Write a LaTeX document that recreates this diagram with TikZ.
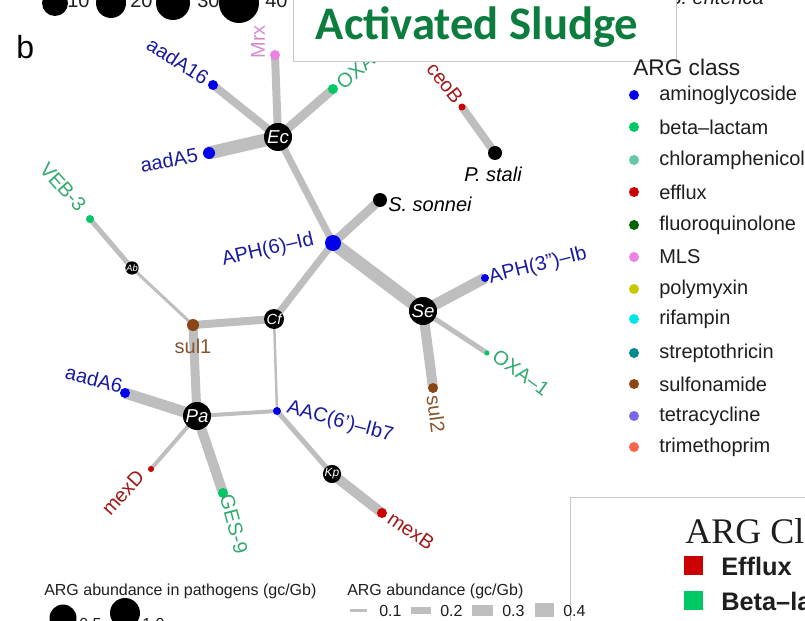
\documentclass[tikz,border=0pt]{standalone}
\usepackage{fontspec}
\setmainfont{Liberation Sans}
\newfontfamily\titlefont{Carlito}
\newfontfamily\serfont{Liberation Serif}
\usetikzlibrary{backgrounds}
\definecolor{cblue}{RGB}{0,0,235}
\definecolor{cbeta}{RGB}{0,200,100}
\definecolor{cchlor}{RGB}{100,200,170}
\definecolor{ceff}{RGB}{205,0,0}
\definecolor{cfluo}{RGB}{0,100,0}
\definecolor{cmls}{RGB}{235,130,230}
\definecolor{cpoly}{RGB}{200,200,0}
\definecolor{crif}{RGB}{0,230,235}
\definecolor{cstrep}{RGB}{0,139,139}
\definecolor{csulf}{RGB}{139,69,19}
\definecolor{ctet}{RGB}{125,100,235}
\definecolor{ctri}{RGB}{250,100,75}
\definecolor{lblue}{RGB}{25,25,160}
\definecolor{lgreen}{RGB}{50,170,110}
\definecolor{lred}{RGB}{160,25,25}
\definecolor{lbrown}{RGB}{135,85,45}
\definecolor{lpink}{RGB}{210,140,205}
\definecolor{egray}{RGB}{190,190,190}
\definecolor{titlegreen}{RGB}{12,125,62}
\definecolor{boxgray}{RGB}{200,200,200}
\definecolor{txt}{RGB}{30,30,30}
\tikzset{
  dot/.style={circle,inner sep=0pt,minimum size=#1*0.75pt},
  host/.style={circle,fill=black,inner sep=0pt,minimum size=#1*0.75pt,text=white},
  edge/.style={draw=egray,line width=#1*0.75pt},
  lab/.style={inner sep=0pt,font=\fontsize{15}{15}\selectfont},
  leg/.style={inner sep=0pt,anchor=west,text=txt,font=\fontsize{15}{15}\selectfont},
  small/.style={inner sep=0pt,text=txt,font=\fontsize{12}{12}\selectfont},
}
\begin{document}
\begin{tikzpicture}[x=0.75pt,y=-0.75pt]
\useasboundingbox (0,0) rectangle (805,620);
\clip (0,0) rectangle (805,620);
% top-left size legend (cut)
\node[dot=26,fill=black] (s10) at (55,3) {};
\node[dot=30,fill=black] (s20) at (111,3) {};
\node[dot=34,fill=black] (s30) at (173,3) {};
\node[dot=40,fill=black] (s40) at (239,3) {};
\node[small,font=\fontsize{15}{15}\selectfont,anchor=base west] (t10) at (67,8) {10};
\node[small,font=\fontsize{15}{15}\selectfont,anchor=base west] (t20) at (130,8) {20};
\node[small,font=\fontsize{15}{15}\selectfont,anchor=base west] (t30) at (197,8) {30};
\node[small,font=\fontsize{15}{15}\selectfont,anchor=base west] (t40) at (265,8) {40};
\node[small,font=\fontsize{15}{15}\itshape,anchor=base west] (sent) at (668,5) {S. enterica};
\node[inner sep=0pt,anchor=base west,font=\fontsize{24}{24}\selectfont] (b) at (16,59) {b};

% network nodes
\node[host=28,font=\fontsize{14}{14}\itshape] (Ec) at (278,137) {Ec};
\node[dot=10,fill=cmls] (Mrx) at (275,55) {};
\node[dot=10,fill=cblue] (aadA16) at (213,85) {};
\node[dot=10,fill=cbeta] (OXA) at (333,89) {};
\node[dot=12,fill=cblue] (aadA5) at (209,153) {};
\node[dot=16,fill=cblue] (APH6) at (333,243) {};
\node[host=14] (Sson) at (380,200) {};
\node[dot=7,fill=ceff] (ceoB) at (462,107) {};
\node[host=14] (Pstali) at (495,153) {};
\node[dot=8,fill=cbeta] (VEB) at (90,219) {};
\node[host=12,font=\fontsize{7}{7}\itshape] (Ab) at (132,268) {Ab};
\node[dot=12,fill=csulf] (sul1) at (193,325) {};
\node[host=20,font=\fontsize{11}{11}\itshape] (Cf) at (274,319) {Cf};
\node[host=28,font=\fontsize{14}{14}\itshape] (Pa) at (197,416) {Pa};
\node[dot=8,fill=cblue] (AAC) at (277,411) {};
\node[dot=10,fill=cblue] (aadA6) at (125,393) {};
\node[dot=6,fill=ceff] (mexD) at (151,469) {};
\node[dot=10,fill=cbeta] (GES) at (223,493) {};
\node[host=18,font=\fontsize{9}{9}\itshape] (Kp) at (332,474) {Kp};
\node[dot=10,fill=ceff] (mexB) at (382,513) {};
\node[host=28,font=\fontsize{14}{14}\itshape] (Se) at (423,311) {Se};
\node[dot=8,fill=cblue] (APH3) at (485,278) {};
\node[dot=5,fill=cbeta] (OXA1) at (487,353) {};
\node[dot=10,fill=csulf] (sul2) at (433,388) {};

\begin{scope}[on background layer]
\draw[edge=8] (Ec.center) -- (Mrx.center);
\draw[edge=8] (Ec.center) -- (aadA16.center);
\draw[edge=9] (Ec.center) -- (OXA.center);
\draw[edge=13] (Ec.center) -- (aadA5.center);
\draw[edge=7] (Ec.center) -- (APH6.center);
\draw[edge=9] (APH6.center) -- (Sson.center);
\draw[edge=13] (APH6.center) -- (Se.center);
\draw[edge=7] (APH6.center) -- (Cf.center);
\draw[edge=8] (ceoB.center) -- (Pstali.center);
\draw[edge=5] (VEB.center) -- (Ab.center);
\draw[edge=3] (Ab.center) -- (sul1.center);
\draw[edge=8] (sul1.center) -- (Cf.center);
\draw[edge=9] (sul1.center) -- (Pa.center);
\draw[edge=2.5] (Cf.center) -- (AAC.center);
\draw[edge=4] (Pa.center) -- (AAC.center);
\draw[edge=11] (Pa.center) -- (aadA6.center);
\draw[edge=4] (Pa.center) -- (mexD.center);
\draw[edge=10] (Pa.center) -- (GES.center);
\draw[edge=5] (AAC.center) -- (Kp.center);
\draw[edge=10] (Kp.center) -- (mexB.center);
\draw[edge=11] (Se.center) -- (APH3.center);
\draw[edge=5] (Se.center) -- (OXA1.center);
\draw[edge=10] (Se.center) -- (sul2.center);
\end{scope}

% labels
\node[lab,text=lblue,rotate=-33] (l-aadA16) at (178,61) {aadA16};
\node[lab,text=lpink,rotate=90] (l-Mrx) at (258,42) {Mrx};
\node[lab,text=lgreen,rotate=40,anchor=west] (l-OXA) at (339,85) {OXA};
\node[lab,text=lblue,rotate=10] (l-aadA5) at (169,160) {aadA5};
\node[lab,text=lblue,rotate=13] (l-APH6) at (268,250) {APH(6)–Id};
\node[lab,text=black,anchor=west,font=\fontsize{15}{15}\itshape] (l-Sson) at (388,204) {S. sonnei};
\node[lab,text=lred,rotate=-52] (l-ceoB) at (445,83) {ceoB};
\node[lab,text=black,font=\fontsize{15}{15}\itshape] (l-Pstali) at (493,174) {P. stali};
\node[lab,text=lgreen,rotate=-48] (l-VEB) at (63,187) {VEB-3};
\node[lab,text=lbrown] (l-sul1) at (193,346) {sul1};
\node[lab,text=lblue,rotate=-14] (l-aadA6) at (94,379) {aadA6};
\node[lab,text=lblue,rotate=-15] (l-AAC) at (340,422) {AAC(6')–Ib7};
\node[lab,text=lred,rotate=48] (l-mexD) at (123,493) {mexD};
\node[lab,text=lgreen,rotate=-75] (l-GES) at (234,524) {GES-9};
\node[lab,text=lred,rotate=-34] (l-mexB) at (411,531) {mexB};
\node[lab,text=lblue,rotate=14] (l-APH3) at (538,266) {APH(3'')–Ib};
\node[lab,text=lgreen,rotate=-36] (l-OXA1) at (521,373) {OXA–1};
\node[lab,text=lbrown,rotate=-82] (l-sul2) at (436,414) {sul2};

% title box
\node[draw=boxgray,fill=white,line width=0.8pt,minimum width=383*0.75pt,minimum height=70*0.75pt,anchor=south west,inner sep=0pt] (titlebox) at (293,62) {};
\node[inner sep=0pt,text=titlegreen,font=\titlefont\bfseries\fontsize{35}{35}\selectfont] (title) at (477,27) {Activated Sludge};

% ARG class legend
\node[leg,font=\fontsize{17}{17}\selectfont] (legtitle) at (633,67) {ARG class};
\foreach \c/\t/\y [count=\i] in {cblue/aminoglycoside/95, cbeta/beta–lactam/127, cchlor/chloramphenicol/160, ceff/efflux/192, cfluo/fluoroquinolone/225, cmls/MLS/257, cpoly/polymyxin/289, crif/rifampin/319, cstrep/streptothricin/353, csulf/sulfonamide/384, ctet/tetracycline/416, ctri/trimethoprim/447}{
  \node[dot=10,fill=\c] (ld\i) at (634,\y) {};
  \node[leg] (lt\i) at (659,\y) {\t};
}

% bottom-left legends
\node[small,anchor=west] (pathleg) at (44,591) {ARG abundance in pathogens (gc/Gb)};
\node[dot=27,fill=black] (p05) at (63,618) {};
\node[dot=30,fill=black] (p10) at (125,613) {};
\node[small,anchor=base west] (tp05) at (79,629) {0.5};
\node[small,anchor=base west] (tp10) at (142,629) {1.0};
\node[small,anchor=west] (ableg) at (347,591) {ARG abundance (gc/Gb)};
\node[fill=egray,inner sep=0pt,minimum width=17*0.75pt,minimum height=3*0.75pt] (bar1) at (358.5,610) {};
\node[fill=egray,inner sep=0pt,minimum width=20*0.75pt,minimum height=7*0.75pt] (bar2) at (421,610) {};
\node[fill=egray,inner sep=0pt,minimum width=21*0.75pt,minimum height=11*0.75pt] (bar3) at (482.5,610) {};
\node[fill=egray,inner sep=0pt,minimum width=19*0.75pt,minimum height=14*0.75pt] (bar4) at (544.5,610) {};

% bottom-right box
\node[draw=boxgray,fill=white,line width=0.8pt,anchor=north west,inner sep=0pt,minimum width=250*0.75pt,minimum height=140*0.75pt] (brbox) at (570,497) {};
\node[small,anchor=base west] (b01) at (379,616) {0.1};
\node[small,anchor=base west] (b02) at (440,616) {0.2};
\node[small,anchor=base west] (b03) at (502,616) {0.3};
\node[small,anchor=base west] (b04) at (563,616) {0.4};
\node[inner sep=0pt,anchor=base west,font=\serfont\fontsize{27}{27}\selectfont,text=txt] (argcl) at (685,543) {ARG Class};
\node[fill=ceff,inner sep=0pt,minimum size=19*0.75pt] (sqe) at (693.5,565) {};
\node[inner sep=0pt,anchor=west,font=\bfseries\fontsize{19}{19}\selectfont,text=txt] (te) at (721,566) {Efflux};
\node[fill=cbeta,inner sep=0pt,minimum size=19*0.75pt] (sqb) at (693.5,600) {};
\node[inner sep=0pt,anchor=west,font=\bfseries\fontsize{19}{19}\selectfont,text=txt] (tb) at (721,601) {Beta–lactam};
\end{tikzpicture}
\end{document}
